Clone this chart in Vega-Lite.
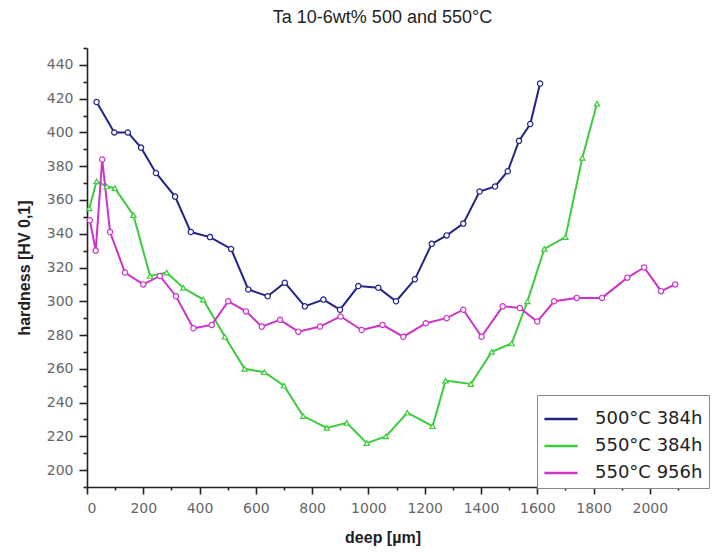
{
  "$schema": "https://vega.github.io/schema/vega-lite/v6.json",
  "width": 591,
  "height": 439,
  "autosize": {"type": "none"},
  "padding": {"left": 87, "top": 48, "right": 35, "bottom": 71},
  "background": "white",
  "title": {"text": "Ta 10-6wt% 500 and 550°C", "font": "Liberation Sans", "fontSize": 18, "fontWeight": "normal", "color": "#222", "anchor": "middle", "offset": 20},
  "config": {"view": {"stroke": null}},
  "datasets": {
    "d": [
      {"s": "500°C 384h", "x": 34, "y": 418},
      {"s": "500°C 384h", "x": 97, "y": 400},
      {"s": "500°C 384h", "x": 145, "y": 400},
      {"s": "500°C 384h", "x": 192, "y": 391},
      {"s": "500°C 384h", "x": 245, "y": 376},
      {"s": "500°C 384h", "x": 313, "y": 362},
      {"s": "500°C 384h", "x": 369, "y": 341},
      {"s": "500°C 384h", "x": 437, "y": 338},
      {"s": "500°C 384h", "x": 512, "y": 331},
      {"s": "500°C 384h", "x": 573, "y": 307},
      {"s": "500°C 384h", "x": 642, "y": 303},
      {"s": "500°C 384h", "x": 703, "y": 311},
      {"s": "500°C 384h", "x": 774, "y": 297},
      {"s": "500°C 384h", "x": 840, "y": 301},
      {"s": "500°C 384h", "x": 899, "y": 295},
      {"s": "500°C 384h", "x": 964, "y": 309},
      {"s": "500°C 384h", "x": 1035, "y": 308},
      {"s": "500°C 384h", "x": 1098, "y": 300},
      {"s": "500°C 384h", "x": 1165, "y": 313},
      {"s": "500°C 384h", "x": 1225, "y": 334},
      {"s": "500°C 384h", "x": 1278, "y": 339},
      {"s": "500°C 384h", "x": 1337, "y": 346},
      {"s": "500°C 384h", "x": 1395, "y": 365},
      {"s": "500°C 384h", "x": 1450, "y": 368},
      {"s": "500°C 384h", "x": 1495, "y": 377},
      {"s": "500°C 384h", "x": 1535, "y": 395},
      {"s": "500°C 384h", "x": 1575, "y": 405},
      {"s": "500°C 384h", "x": 1610, "y": 429},
      {"s": "550°C 384h", "x": 8, "y": 355},
      {"s": "550°C 384h", "x": 34, "y": 371},
      {"s": "550°C 384h", "x": 70, "y": 368},
      {"s": "550°C 384h", "x": 99, "y": 367},
      {"s": "550°C 384h", "x": 165, "y": 351},
      {"s": "550°C 384h", "x": 224, "y": 315},
      {"s": "550°C 384h", "x": 283, "y": 317},
      {"s": "550°C 384h", "x": 342, "y": 308},
      {"s": "550°C 384h", "x": 413, "y": 301},
      {"s": "550°C 384h", "x": 490, "y": 279},
      {"s": "550°C 384h", "x": 560, "y": 260},
      {"s": "550°C 384h", "x": 630, "y": 258},
      {"s": "550°C 384h", "x": 700, "y": 250},
      {"s": "550°C 384h", "x": 768, "y": 232},
      {"s": "550°C 384h", "x": 852, "y": 225},
      {"s": "550°C 384h", "x": 923, "y": 228},
      {"s": "550°C 384h", "x": 994, "y": 216},
      {"s": "550°C 384h", "x": 1062, "y": 220},
      {"s": "550°C 384h", "x": 1138, "y": 234},
      {"s": "550°C 384h", "x": 1228, "y": 226},
      {"s": "550°C 384h", "x": 1274, "y": 253},
      {"s": "550°C 384h", "x": 1364, "y": 251},
      {"s": "550°C 384h", "x": 1438, "y": 270},
      {"s": "550°C 384h", "x": 1509, "y": 275},
      {"s": "550°C 384h", "x": 1565, "y": 300},
      {"s": "550°C 384h", "x": 1625, "y": 331},
      {"s": "550°C 384h", "x": 1700, "y": 338},
      {"s": "550°C 384h", "x": 1760, "y": 385},
      {"s": "550°C 384h", "x": 1812, "y": 417},
      {"s": "550°C 956h", "x": 10, "y": 348},
      {"s": "550°C 956h", "x": 31, "y": 330},
      {"s": "550°C 956h", "x": 54, "y": 384},
      {"s": "550°C 956h", "x": 82, "y": 341},
      {"s": "550°C 956h", "x": 135, "y": 317},
      {"s": "550°C 956h", "x": 200, "y": 310},
      {"s": "550°C 956h", "x": 259, "y": 315},
      {"s": "550°C 956h", "x": 316, "y": 303},
      {"s": "550°C 956h", "x": 378, "y": 284},
      {"s": "550°C 956h", "x": 443, "y": 286},
      {"s": "550°C 956h", "x": 502, "y": 300},
      {"s": "550°C 956h", "x": 565, "y": 294},
      {"s": "550°C 956h", "x": 621, "y": 285},
      {"s": "550°C 956h", "x": 686, "y": 289},
      {"s": "550°C 956h", "x": 751, "y": 282},
      {"s": "550°C 956h", "x": 828, "y": 285},
      {"s": "550°C 956h", "x": 901, "y": 291},
      {"s": "550°C 956h", "x": 976, "y": 283},
      {"s": "550°C 956h", "x": 1050, "y": 286},
      {"s": "550°C 956h", "x": 1124, "y": 279},
      {"s": "550°C 956h", "x": 1204, "y": 287},
      {"s": "550°C 956h", "x": 1278, "y": 290},
      {"s": "550°C 956h", "x": 1337, "y": 295},
      {"s": "550°C 956h", "x": 1402, "y": 279},
      {"s": "550°C 956h", "x": 1477, "y": 297},
      {"s": "550°C 956h", "x": 1538, "y": 296},
      {"s": "550°C 956h", "x": 1600, "y": 288},
      {"s": "550°C 956h", "x": 1660, "y": 300},
      {"s": "550°C 956h", "x": 1740, "y": 302},
      {"s": "550°C 956h", "x": 1830, "y": 302},
      {"s": "550°C 956h", "x": 1920, "y": 314},
      {"s": "550°C 956h", "x": 1980, "y": 320},
      {"s": "550°C 956h", "x": 2040, "y": 306},
      {"s": "550°C 956h", "x": 2090, "y": 310}
    ]
  },
  "data": {"name": "d"},
  "encoding": {
    "x": {
      "field": "x", "type": "quantitative",
      "scale": {"domain": [0, 2100], "nice": false, "zero": false},
      "axis": {
        "title": "deep [µm]",
        "values": [0,100,200,300,400,500,600,700,800,900,1000,1100,1200,1300,1400,1500,1600,1700,1800,1900,2000,2100],
        "labelExpr": "datum.value % 200 === 0 ? datum.label : ''",
        "format": "d",
        "grid": false,
        "domainColor": "#222", "domainWidth": 1.6,
        "tickColor": "#222", "tickWidth": 1.6,
        "tickSize": {"condition": {"test": "datum.value % 200 === 0", "value": 7}, "value": 3},
        "labelFont": "DejaVu Sans", "labelFontSize": 14, "labelColor": "#666", "labelPadding": 7,
        "titleFont": "Liberation Sans", "titleFontSize": 16, "titleFontWeight": "bold", "titleColor": "#222", "titlePadding": 14
      }
    },
    "y": {
      "field": "y", "type": "quantitative",
      "scale": {"domain": [190, 450], "nice": false, "zero": false},
      "axis": {
        "title": "hardness [HV 0,1]",
        "values": [190,200,210,220,230,240,250,260,270,280,290,300,310,320,330,340,350,360,370,380,390,400,410,420,430,440,450],
        "labelExpr": "datum.value % 20 === 0 ? datum.label : ''",
        "grid": false,
        "domainColor": "#222", "domainWidth": 1.6,
        "tickColor": "#222", "tickWidth": 1.6,
        "tickSize": {"condition": {"test": "datum.value % 20 === 0", "value": 8}, "value": 4},
        "labelFont": "DejaVu Sans", "labelFontSize": 14, "labelColor": "#666", "labelPadding": 6,
        "titleFont": "Liberation Sans", "titleFontSize": 16, "titleFontWeight": "bold", "titleColor": "#222", "titlePadding": 14
      }
    }
  },
  "resolve": {"legend": {"color": "independent", "shape": "independent"}},
  "layer": [
    {
      "mark": {"type": "line", "strokeWidth": 2},
      "encoding": {
        "color": {
          "field": "s", "type": "nominal",
          "scale": {"domain": ["500°C 384h", "550°C 384h", "550°C 956h"], "range": ["#22228a", "#3ccc3c", "#cc33cc"]},
          "legend": {
            "title": null, "orient": "none", "legendX": 450, "legendY": 347,
            "symbolType": "stroke", "symbolSize": 1100, "symbolStrokeWidth": 2.5,
            "labelFont": "DejaVu Sans", "labelFontSize": 18, "labelColor": "#222", "labelOffset": 16,
            "rowPadding": 0, "padding": 6,
            "strokeColor": "#888", "fillColor": "white"
          }
        }
      }
    },
    {
      "mark": {"type": "point", "filled": false, "size": 28, "strokeWidth": 1.2, "fill": "white", "opacity": 1},
      "encoding": {
        "color": {"field": "s", "type": "nominal", "legend": null},
        "shape": {
          "field": "s", "type": "nominal",
          "scale": {"domain": ["500°C 384h", "550°C 384h", "550°C 956h"], "range": ["circle", "triangle-up", "circle"]},
          "legend": null
        }
      }
    }
  ]
}
